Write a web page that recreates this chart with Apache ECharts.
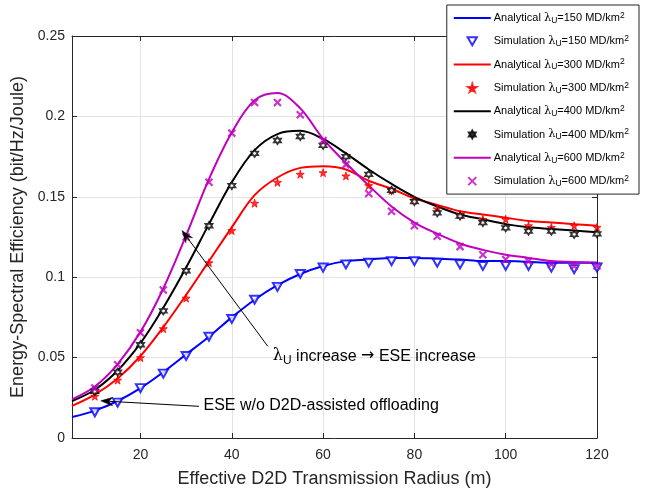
<!DOCTYPE html>
<html>
<head>
<meta charset="utf-8">
<script src="https://cdn.jsdelivr.net/npm/echarts@6/dist/echarts.min.js"></script>
<style>
html,body{margin:0;padding:0;background:#fff;}
#c{width:651px;height:493px;}
</style>
</head>
<body>
<div id="c"></div>
<script>
// ---- data ----
const anaX = [5,10,15,20,25,30,35,40,45,50,55,60,65,70,75,80,85,90,95,100,105,110,115,120];
const anaBlue  = [0.013,0.017,0.023,0.031,0.041,0.052,0.063,0.075,0.086,0.095,0.102,0.107,0.110,0.111,0.112,0.112,0.1115,0.111,0.110,0.110,0.1095,0.109,0.109,0.109];
const anaRed   = [0.020,0.027,0.037,0.051,0.069,0.089,0.110,0.131,0.151,0.162,0.168,0.169,0.167,0.160,0.155,0.149,0.145,0.141,0.139,0.137,0.135,0.134,0.133,0.132];
const anaBlack = [0.023,0.030,0.042,0.059,0.081,0.106,0.133,0.159,0.179,0.189,0.191,0.186,0.177,0.167,0.158,0.150,0.144,0.139,0.136,0.133,0.131,0.130,0.129,0.128];
const anaMag   = [0.024,0.032,0.046,0.066,0.093,0.126,0.161,0.190,0.210,0.2145,0.205,0.186,0.171,0.157,0.144,0.134,0.127,0.121,0.117,0.114,0.112,0.110,0.1095,0.109];

const simX = [10,15,20,25,30,35,40,45,50,55,60,65,70,75,80,85,90,95,100,105,110,115,120];
const simBlue  = [0.016,0.022,0.031,0.040,0.051,0.063,0.074,0.086,0.094,0.102,0.106,0.108,0.109,0.110,0.110,0.109,0.108,0.107,0.107,0.107,0.106,0.105,0.106];
const simRed   = [0.026,0.036,0.050,0.068,0.087,0.109,0.129,0.146,0.159,0.164,0.165,0.163,0.157,0.154,0.148,0.1425,0.139,0.136,0.136,0.132,0.131,0.132,0.131];
const simBlack = [0.029,0.041,0.058,0.079,0.104,0.132,0.157,0.177,0.185,0.1875,0.182,0.175,0.164,0.154,0.147,0.140,0.138,0.134,0.1307,0.1286,0.1286,0.1266,0.127];
const simMag   = [0.031,0.0455,0.0655,0.092,0.125,0.159,0.1896,0.2086,0.2086,0.201,0.185,0.170,0.152,0.141,0.132,0.1255,0.119,0.114,0.111,0.110,0.108,0.107,0.107];

const densities = ['150','300','400','600'];
const xTicks = [20,40,60,80,100,120];
const xLabel = 'Effective D2D Transmission Radius (m)';
const yLabel = 'Energy-Spectral Efficiency (bit/Hz/Joule)';
const annot1a = ' increase ';
const annot1b = '\u2192';
const annot1c = ' ESE increase';
const annot2 = 'ESE w/o D2D-assisted offloading';
// annotation anchor points (data coords): [tipX, tipY, tailX, tailY]
const arrow1 = [29.1, 0.129, 47.9, 0.057];
const arrow2 = [11.3, 0.0231, 32.8, 0.0197];
const text1Pos = [49.0, 0.0509];
const text2Pos = [33.8, 0.0199];

// ---- styles ----
const BLUE = '#0000ff', RED = '#ff0000', BLACK = '#000000', MAG = '#bf00bf';
const AX = '#262626';
const FONT = '"Liberation Sans", Arial, Helvetica, sans-serif';
const TRI = 'path://M0,0 L10,0 L5,8.66 Z';
const STAR = 'path://M50,0 L61,35 L98,35 L68,57 L79,91 L50,70 L21,91 L32,57 L2,35 L39,35 Z';
const HEX = 'path://M50,0 L64,25 L93,25 L79,50 L93,75 L64,75 L50,100 L36,75 L7,75 L21,50 L7,25 L36,25 Z';
const XMARK = 'path://M0,0 L10,10 M10,0 L0,10';

function pairs(xs, ys){ return xs.map((x,i)=>[x, ys[i]]); }

function lineSeries(name, color, ys){
  return {
    name, type:'line', data: pairs(anaX, ys), smooth: 0.35,
    symbol:'none', showSymbol:false,
    lineStyle:{color, width:2}, itemStyle:{color}, z:2
  };
}
function simSeries(name, ys, opts){
  return Object.assign({
    name, type:'scatter', data: pairs(simX, ys), z:3
  }, opts);
}

const series = [
  lineSeries('Analytical 150', BLUE, anaBlue),
  simSeries('Simulation 150', simBlue, {symbol:TRI, symbolSize:[9,8],
     itemStyle:{color:'#ffffff', borderColor:BLUE, borderWidth:2}}),
  lineSeries('Analytical 300', RED, anaRed),
  simSeries('Simulation 300', simRed, {symbol:STAR, symbolSize:8,
     itemStyle:{color:RED, borderColor:RED, borderWidth:1}}),
  lineSeries('Analytical 400', BLACK, anaBlack),
  simSeries('Simulation 400', simBlack, {symbol:HEX, symbolSize:7,
     itemStyle:{color:'#ffffff', borderColor:BLACK, borderWidth:1.8}}),
  lineSeries('Analytical 600', MAG, anaMag),
  simSeries('Simulation 600', simMag, {symbol:XMARK, symbolSize:7,
     itemStyle:{color:'none', borderColor:MAG, borderWidth:2.2}})
];

const legendData = [
  {name:'Analytical 150', itemStyle:{opacity:0}},
  {name:'Simulation 150', icon:TRI},
  {name:'Analytical 300', itemStyle:{opacity:0}},
  {name:'Simulation 300', icon:STAR},
  {name:'Analytical 400', itemStyle:{opacity:0}},
  {name:'Simulation 400', icon:HEX, itemStyle:{color:BLACK}},
  {name:'Analytical 600', itemStyle:{opacity:0}},
  {name:'Simulation 600', icon:XMARK}
];

const chart = echarts.init(document.getElementById('c'), null, {renderer:'canvas'});

const richLegend = {
  a:{fontSize:11, fontFamily:FONT, color:'#000', lineHeight:14},
  l:{fontSize:11.5, fontFamily:'"DejaVu Serif", serif', color:'#000', lineHeight:14},
  sub:{fontSize:8.5, fontFamily:FONT, color:'#000', lineHeight:8, verticalAlign:'bottom'},
  sup:{fontSize:8.5, fontFamily:FONT, color:'#000', lineHeight:8, verticalAlign:'top'}
};

chart.setOption({
  animation:false,
  backgroundColor:'#ffffff',
  grid:{left:72, right:54, top:36, bottom:54, containLabel:false},
  xAxis:[{
    type:'value', min:5, max:120, position:'bottom',
    name:xLabel, nameLocation:'middle', nameGap:32,
    nameTextStyle:{fontSize:18, color:AX, fontFamily:FONT},
    axisLine:{show:true, lineStyle:{color:AX, width:1}},
    axisTick:{show:true, inside:true, length:5, lineStyle:{color:AX}, customValues:xTicks},
    axisLabel:{fontSize:14, color:AX, fontFamily:FONT, margin:10, customValues:xTicks},
    splitLine:{show:true, lineStyle:{color:'#e3e3e3', width:1}}
  },{
    type:'value', min:5, max:120, position:'top',
    axisLine:{show:true, onZero:false, lineStyle:{color:AX, width:1}},
    axisTick:{show:true, inside:true, length:5, lineStyle:{color:AX}, customValues:xTicks},
    axisLabel:{show:false, customValues:xTicks},
    splitLine:{show:false}
  }],
  yAxis:[{
    type:'value', min:0, max:0.25, interval:0.05, position:'left',
    name:yLabel, nameLocation:'middle', nameGap:30, nameRotate:90,
    nameTextStyle:{fontSize:18, color:AX, fontFamily:FONT},
    axisLine:{show:true, onZero:false, lineStyle:{color:AX, width:1}},
    axisTick:{show:true, inside:true, length:5, lineStyle:{color:AX}},
    axisLabel:{fontSize:14, color:AX, fontFamily:FONT, margin:7},
    splitLine:{show:true, lineStyle:{color:'#e3e3e3', width:1}}
  },{
    type:'value', min:0, max:0.25, interval:0.05, position:'right',
    axisLine:{show:true, onZero:false, lineStyle:{color:AX, width:1}},
    axisTick:{show:true, inside:true, length:5, lineStyle:{color:AX}},
    axisLabel:{show:false},
    splitLine:{show:false}
  }],
  legend:{
    orient:'vertical', right:12, top:5,
    data:legendData,
    itemWidth:37, itemHeight:8, itemGap:9.3,
    padding:[6,10,6,6],
    backgroundColor:'#ffffff', borderColor:AX, borderWidth:1,
    textStyle:{fontSize:11, fontFamily:FONT, color:'#000', rich:richLegend, padding:[0,0,0,-2]},
    selectedMode:false,
    formatter:function(n){
      const parts = n.split(' ');
      return '{a|'+parts[0]+' }{l|\u03bb}{sub|U}{a|='+parts[1]+' MD/km}{sup|2}';
    }
  },
  series: series
});

function drawAnnotations(){
  const p = (x,y)=>chart.convertToPixel({xAxisIndex:0, yAxisIndex:0}, [x,y]);
  function arrow(a){
    const tip = p(a[0],a[1]), tail = p(a[2],a[3]);
    const dx = tip[0]-tail[0], dy = tip[1]-tail[1];
    const L = Math.sqrt(dx*dx+dy*dy), ux = dx/L, uy = dy/L;
    const hl = 12, hw = 4.2, notch = 8;
    const bx = tip[0]-ux*hl, by = tip[1]-uy*hl;
    const nx = tip[0]-ux*notch, ny = tip[1]-uy*notch;
    return [
      {type:'line', z:100, shape:{x1:tail[0], y1:tail[1], x2:nx, y2:ny},
       style:{stroke:'#000', lineWidth:1}},
      {type:'polygon', z:100, shape:{points:[tip, [bx-uy*hw, by+ux*hw], [nx,ny], [bx+uy*hw, by-ux*hw]]},
       style:{fill:'#000', stroke:'#000', lineWidth:0.5}}
    ];
  }
  const t1 = p(text1Pos[0], text1Pos[1]);
  const t2 = p(text2Pos[0], text2Pos[1]);
  const g = [].concat(arrow(arrow1), arrow(arrow2), [
    {type:'text', z:100, x:t1[0], y:t1[1], style:{
      text:'{l|\u03bb}{sub|U}{a|'+annot1a+'}{r|'+annot1b+'}{a|'+annot1c+'}',
      verticalAlign:'middle', align:'left',
      rich:{
        a:{fontSize:16, fontFamily:FONT, color:'#000', lineHeight:22},
        r:{fontSize:16, fontFamily:'"DejaVu Sans", sans-serif', color:'#000', lineHeight:22},
        l:{fontSize:16, fontFamily:'"DejaVu Serif", serif', color:'#000', lineHeight:22},
        sub:{fontSize:12, fontFamily:FONT, color:'#000', lineHeight:12, verticalAlign:'bottom'}
      }
    }},
    {type:'text', z:100, x:t2[0], y:t2[1], style:{
      text:annot2, font:'16px '+FONT, fill:'#000', verticalAlign:'middle', align:'left'
    }}
  ]);
  chart.setOption({graphic:g});
}
drawAnnotations();
</script>
</body>
</html>
